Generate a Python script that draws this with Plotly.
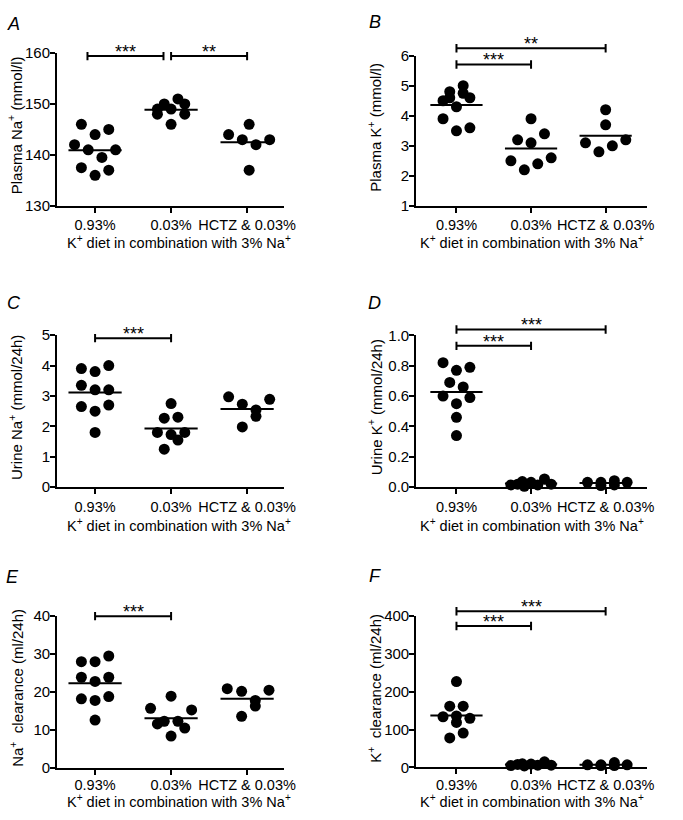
import plotly.graph_objects as go

W, H = 683, 820
FONT = "Liberation Sans, Arial, sans-serif"

categories = ["0.93%", "0.03%", "HCTZ & 0.03%"]
x_title = "K<sup>+</sup> diet in combination with 3% Na<sup>+</sup>"
panel_letters = ["A", "B", "C", "D", "E", "F"]
y_titles = [
    "Plasma Na<sup>+</sup> (mmol/l)",
    "Plasma K<sup>+</sup> (mmol/l)",
    "Urine Na<sup>+</sup> (mmol/24h)",
    "Urine K<sup>+</sup> (mmol/24h)",
    "Na<sup>+</sup>  clearance (ml/24h)",
    "K<sup>+</sup>  clearance (ml/24h)",
]
y_ranges = [(130, 160), (1, 6), (0, 5), (0, 1), (0, 40), (0, 400)]
y_tickvals = [
    [130, 140, 150, 160],
    [1, 2, 3, 4, 5, 6],
    [0, 1, 2, 3, 4, 5],
    [0, 0.2, 0.4, 0.6, 0.8, 1.0],
    [0, 10, 20, 30, 40],
    [0, 100, 200, 300, 400],
]
y_tickformats = ["", "", "", ".1f", "", ""]

# ---- data: values per group (0.93%, 0.03%, HCTZ & 0.03%) ----
plasma_na = [
    [146, 144, 145, 142, 141, 141, 139.5, 137.5, 137, 136],
    [151, 150, 150, 149, 149, 148, 148, 146],
    [144, 146, 143, 142, 143, 137],
]
plasma_k = [
    [5.0, 4.8, 4.75, 4.5, 4.6, 4.6, 4.3, 3.9, 3.5, 3.6],
    [3.9, 3.2, 3.4, 3.1, 2.5, 2.6, 2.4, 2.2],
    [4.2, 3.7, 3.1, 3.2, 3.0, 2.8],
]
urine_na = [
    [3.9, 3.8, 4.0, 3.35, 3.2, 3.2, 2.65, 2.7, 2.5, 1.8],
    [2.75, 2.27, 2.3, 1.8, 1.73, 1.8, 1.55, 1.25],
    [2.97, 2.73, 2.89, 2.54, 2.33, 1.98],
]
urine_k = [
    [0.82, 0.77, 0.79, 0.69, 0.66, 0.60, 0.59, 0.55, 0.46, 0.34],
    [0.015, 0.02, 0.037, 0.032, 0.006, 0.015, 0.054, 0.02],
    [0.032, 0.032, 0.011, 0.043, 0.015, 0.032],
]
na_clearance = [
    [28, 28, 29.5, 23.9, 23.9, 22.8, 18.2, 18.8, 17.8, 12.6],
    [18.9, 15.7, 15.3, 11.6, 12.3, 12.3, 10.5, 8.4],
    [20.9, 20.2, 20.5, 17.8, 16.3, 13.6],
]
k_clearance = [
    [227, 162, 162, 134, 136, 119, 130, 91, 78],
    [5, 8, 9.5, 9, 4, 6, 15, 6],
    [7, 7, 5, 13, 5, 7],
]

# horizontal scatter offsets (in dot steps) for each point
plasma_na_jit = [[-2, 0, 2, -3, -1, 3, 1, -2, 2, 0], [1, -1, 2, -2, 0, -2, 2, 0], [-2.7, 0.3, -0.7, 1.3, 3.3, 0.3]]
plasma_k_jit = [[1, -1, 1, -2, -1, 2, 0, -2, 0, 2], [0, -2, 2, 0, -3, 3, 1, -1], [0, 0, -3, 3, 1, -1]]
urine_na_jit = [[-2, 0, 2, -2, 0, 2, -2, 2, 0, 0], [0, -1, 1, -2, 0, 2, 1, -1], [-2.7, -0.7, 3.3, 1.3, 1.3, -0.7]]
urine_k_jit = [[-2, 0, 2, -1, 1, -2, 2, 0, 0, 0], [-3, -2, -1.3, 0, -1, 1, 2, 3], [-2.7, -0.7, -0.7, 1.3, 1.3, 3.2]]
na_clear_jit = [[-2, 0, 2, -2, 2, 0, -2, 2, 0, 0], [0, -3, 3, -2, -1, 1, 2, 0], [-2.9, -0.8, 3.2, 1.2, 1.2, -0.8]]
k_clear_jit = [[0, -1, 1, -2, 0, 0, 2, 1, -1], [-3, -2, -1.3, 0, -1, 1, 2, 3], [-2.7, -0.7, -0.7, 1.3, 1.3, 3.2]]

panel_values = [plasma_na, plasma_k, urine_na, urine_k, na_clearance, k_clearance]
panel_jitter = [plasma_na_jit, plasma_k_jit, urine_na_jit, urine_k_jit, na_clear_jit, k_clear_jit]

# significance bars: (from, to, level in data units, label)
sig_bars = [
    [(-0.1, 0.9, 159.4, "***"), (1.0, 2.0, 159.4, "**")],
    [(0, 2, 6.25, "**"), (0, 1, 5.71, "***")],
    [(0, 1, 4.9, "***")],
    [(0, 2, 1.039, "***"), (0, 1, 0.931, "***")],
    [(0, 1, 40, "***")],
    [(0, 2, 413, "***"), (0, 1, 374, "***")],
]

# ---- geometry (pixels) ----
x_dom_px = [(58, 289), (423, 658)] * 3
y_dom_px = [(45, 201), (47.7, 201), (333, 488.3), (333.3, 488.3), (620, 775), (620, 774.5)]
x_ranges = [(-0.5, 2.49), (-0.54, 2.56)] * 3
letter_pos = [(14, 15), (381, 13), (14, 300), (381, 300), (13, 580), (381, 579)]
ytitle_x = [15, 381, 15, 381, 16, 381]
xtitle_x = [182, 541, 182, 541, 182, 541]
xtitle_y = [238, 238, 526.5, 526.5, 809, 809]
xtick_standoff = [0, 0, 0, 0, -2, -2]
JIT_STEP = 0.09
MEAN_HALF = 0.35
CAP_PX = 4.3

fig = go.Figure()
layout = dict(
    width=W, height=H, margin=dict(l=0, r=0, t=0, b=0),
    paper_bgcolor="white", plot_bgcolor="white", showlegend=False,
    font=dict(family=FONT, color="black"),
)
shapes, annotations = [], []

for k in range(6):
    sfx = "" if k == 0 else str(k + 1)
    xa, ya = "x" + sfx, "y" + sfx
    lo, hi = y_ranges[k]
    x0p, x1p = x_dom_px[k]
    yt, yb = y_dom_px[k]
    dom_h = yb - yt
    layout["xaxis" + sfx] = dict(
        domain=[x0p / W, x1p / W], range=list(x_ranges[k]), anchor=ya,
        tickmode="array", tickvals=[0, 1, 2], ticktext=categories,
        showgrid=False, zeroline=False, showline=True, linecolor="black", linewidth=2,
        ticks="outside", ticklen=5, tickwidth=2, tickcolor="black",
        ticklabelstandoff=xtick_standoff[k],
        tickfont=dict(size=14.5, color="black", family=FONT),
    )
    layout["yaxis" + sfx] = dict(
        domain=[1 - yb / H, 1 - yt / H], range=[lo, hi], anchor=xa,
        tickmode="array", tickvals=y_tickvals[k], tickformat=y_tickformats[k],
        showgrid=False, zeroline=False, showline=True, linecolor="black", linewidth=2,
        ticks="outside", ticklen=5, tickwidth=2, tickcolor="black",
        ticklabelstandoff=-3,
        tickfont=dict(size=15, color="black", family=FONT),
    )
    for g, (vals, jit) in enumerate(zip(panel_values[k], panel_jitter[k])):
        fig.add_trace(go.Scatter(
            x=[g + j * JIT_STEP for j in jit], y=vals, mode="markers",
            marker=dict(size=11, color="black"), cliponaxis=False,
            xaxis=xa, yaxis=ya, hoverinfo="skip",
        ))
        m = sum(vals) / len(vals)
        fig.add_trace(go.Scatter(
            x=[g - MEAN_HALF, g + MEAN_HALF], y=[m, m], mode="lines",
            line=dict(color="black", width=2), xaxis=xa, yaxis=ya, hoverinfo="skip",
        ))
    cap = CAP_PX / dom_h
    for (b0, b1, level, label) in sig_bars[k]:
        yd = (level - lo) / (hi - lo)
        line = dict(color="black", width=2)
        shapes.append(dict(type="line", xref=xa, yref=ya + " domain", x0=b0, x1=b1, y0=yd, y1=yd, line=line))
        for bx in (b0, b1):
            shapes.append(dict(type="line", xref=xa, yref=ya + " domain", x0=bx, x1=bx, y0=yd - cap, y1=yd + cap, line=line))
        annotations.append(dict(
            text=label, xref=xa, yref=ya + " domain", x=(b0 + b1) / 2, y=yd,
            xanchor="center", yanchor="bottom", yshift=-8, showarrow=False,
            font=dict(size=18, color="black", family=FONT),
        ))
    lx, ly = letter_pos[k]
    annotations.append(dict(
        text="<i>" + panel_letters[k] + "</i>", xref="paper", yref="paper",
        x=lx / W, y=1 - ly / H, xanchor="center", yanchor="middle", showarrow=False,
        font=dict(size=18, color="black", family=FONT),
    ))
    annotations.append(dict(
        text=y_titles[k], xref="paper", yref="paper", textangle=-90,
        x=ytitle_x[k] / W, y=1 - ((yt + yb) / 2 - 4) / H, xanchor="center", yanchor="middle",
        showarrow=False, font=dict(size=15, color="black", family=FONT),
    ))
    annotations.append(dict(
        text=x_title, xref="paper", yref="paper",
        x=xtitle_x[k] / W, y=1 - xtitle_y[k] / H, xanchor="center", yanchor="middle",
        showarrow=False, font=dict(size=14.5, color="black", family=FONT),
    ))

layout["shapes"] = shapes
layout["annotations"] = annotations
fig.update_layout(**layout)
fig.write_html(
    "out.html",
    config={"displayModeBar": False},
    post_script="document.body.style.margin='0px';",
)
